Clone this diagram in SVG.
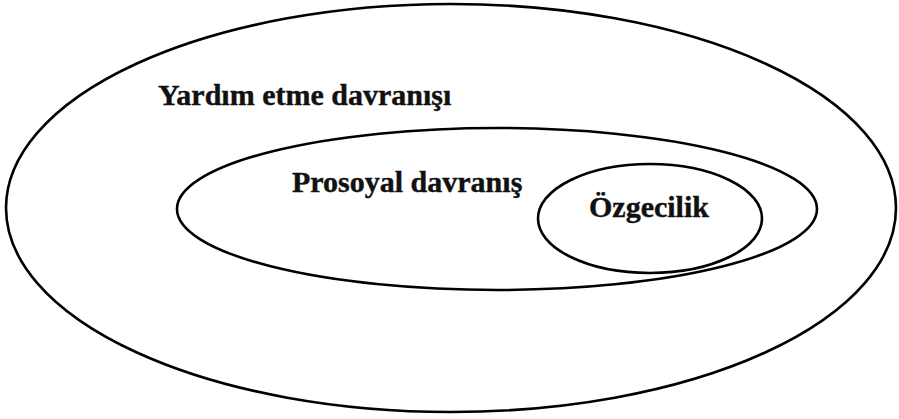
<svg xmlns="http://www.w3.org/2000/svg" width="899" height="419" viewBox="0 0 899 419">
<style>
.shape{fill:none;stroke:#000;stroke-width:2.6}
.lbl{font-family:"Liberation Serif","Times New Roman",serif;font-weight:bold;font-size:30px;fill:#111;stroke:#111;stroke-width:0.4}
</style>
<rect width="899" height="419" fill="#fff"/>
<g id="yardim">
<ellipse class="shape" cx="451" cy="208" rx="445" ry="204"/>
<text class="lbl" x="158" y="105">Yardım etme davranışı</text>
</g>
<g id="prosoyal">
<ellipse class="shape" cx="497" cy="209" rx="320" ry="81"/>
<text class="lbl" x="292" y="192">Prosoyal davranış</text>
</g>
<g id="ozgecilik">
<ellipse class="shape" cx="650" cy="218.5" rx="112" ry="54.5"/>
<text class="lbl" x="589" y="217">Özgecilik</text>
</g>
<g id="connectors"/>
</svg>
